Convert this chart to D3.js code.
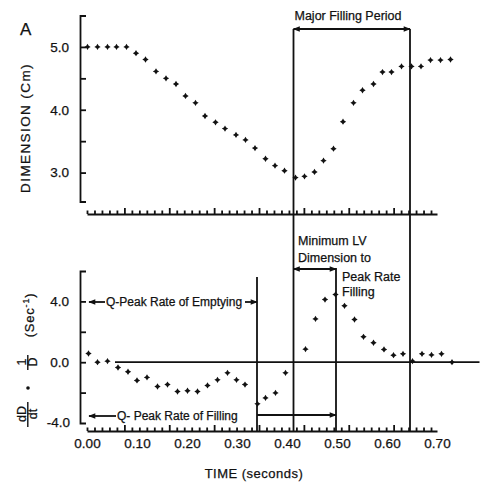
<!DOCTYPE html>
<html><head><meta charset="utf-8">
<script src="https://cdn.jsdelivr.net/npm/d3@7"></script>
<style>
body{margin:0;background:#fff}
svg text{font-family:"Liberation Sans",Arial,sans-serif;fill:#111;stroke:#111;stroke-width:0.25}
</style>
</head><body><svg id="c" width="481" height="482"></svg>
<script>
// ---- data ----
const dimTime = [0.001,0.021,0.041,0.059,0.079,0.098,0.117,0.138,0.158,0.178,0.197,0.217,0.236,0.257,0.276,0.298,0.317,0.336,0.357,0.376,0.395,0.417,0.435,0.455,0.473,0.493,0.512,0.533,0.551,0.573,0.591,0.609,0.629,0.649,0.668,0.687,0.707,0.727];
const dimValue = [5.0,5.0,5.0,5.0,5.0,4.9,4.8,4.61,4.5,4.41,4.22,4.11,3.9,3.8,3.7,3.6,3.52,3.39,3.22,3.11,3.03,2.92,2.94,3.01,3.19,3.38,3.81,4.11,4.31,4.41,4.6,4.6,4.69,4.69,4.69,4.79,4.79,4.8];
const rateTime = [0.003,0.021,0.041,0.062,0.082,0.1,0.12,0.141,0.161,0.181,0.201,0.221,0.241,0.261,0.281,0.299,0.316,0.341,0.357,0.377,0.397,0.437,0.457,0.476,0.497,0.515,0.535,0.553,0.573,0.594,0.613,0.632,0.651,0.67,0.689,0.709,0.73];
const rateValue = [0.57,0.0,0.07,-0.35,-0.63,-1.2,-1.0,-1.6,-1.47,-1.93,-1.88,-1.93,-1.53,-1.16,-0.7,-1.16,-1.47,-2.74,-2.35,-2.02,-0.7,0.86,2.85,4.12,4.45,3.71,2.81,1.67,1.28,0.84,0.46,0.55,0.07,0.55,0.48,0.55,0.0];
const xTickValues = [0,0.1,0.2,0.3,0.4,0.5,0.6,0.7];
const xTickLabels = ["0.00","0.10","0.20","0.30","0.40","0.50","0.60","0.70"];
const dimTicks = [3.0,3.5,4.0,4.5,5.0];
const dimTickLabels = {"3":"3.0","4":"4.0","5":"5.0"};
const rateTicks = [-2,0,2,4];
const rateTickLabels = {"-4":"-4.0","0":"0.0","4":"4.0"};
const eventNames = ["Peak Rate of Emptying","Minimum LV Dimension","Peak Rate of Filling","End of Major Filling"];
const eventTimes = [0.34,0.413,0.498,0.646];

// ---- drawing ----
const svg = d3.select("#c");
const x = d3.scaleLinear().domain([0,0.7]).range([87,437]);
const yDim = d3.scaleLinear().domain([2.5,5.5]).range([204,15.5]);
const yRate = d3.scaleLinear().domain([-4,6]).range([423,271]);
const axisX = 80, xTop = 214, xBot = 431;
const LW = 1.8;

const defs = svg.append("defs");
function mk(id, orient){
  defs.append("marker").attr("id",id).attr("viewBox","0 0 10 10").attr("refX",9).attr("refY",5)
    .attr("markerWidth",9).attr("markerHeight",7).attr("markerUnits","userSpaceOnUse").attr("orient",orient)
    .append("path").attr("d","M0,1 L10,5 L0,9 Z").attr("fill","#111");
}
mk("ah","auto"); mk("ahs","auto-start-reverse");

// y axes (bracket style, ticks inward)
function yAxis(scale, ticks, labels, dom){
  const s = scale.copy().domain(dom).range([scale(dom[0]),scale(dom[1])]);
  const g = svg.append("g").attr("transform",`translate(${axisX},0)`)
    .call(d3.axisLeft(s).tickValues(ticks).tickSizeInner(-6).tickSizeOuter(-6).tickPadding(11)
      .tickFormat(d=>labels[String(d)]||""));
  g.selectAll("path,line").attr("stroke","#111").attr("stroke-width",LW);
  g.selectAll("text").attr("font-size",13.5).attr("fill","#111");
  return g;
}
yAxis(yDim, dimTicks, dimTickLabels, [2.54,5.5]);
const gr = yAxis(yRate, rateTicks, rateTickLabels, [-4,6]);
gr.append("text").attr("x",-10).attr("y",yRate(-4)).attr("dy","0.32em").attr("text-anchor","end")
  .attr("font-size",13.5).text(rateTickLabels["-4"]);

// x axes with small upward ticks
function xAxis(y, withLabels){
  const s = x.copy().domain([0.002,0.782]);
  const minor = d3.range(0.002,0.78,1/60);
  const g = svg.append("g").attr("transform",`translate(0,${y})`)
    .call(d3.axisBottom(s).tickValues(minor).tickSizeInner(-3.5).tickSizeOuter(0).tickFormat(""));
  g.selectAll("path,line").attr("stroke","#111").attr("stroke-width",LW);
  g.selectAll(".tick line").filter((d,i)=>i%6===5).attr("y2",-6);
  if(withLabels){
    const gl = svg.append("g").attr("transform",`translate(0,${y})`)
      .call(d3.axisBottom(x).tickValues(xTickValues).tickSize(0).tickPadding(7).tickFormat((d,i)=>xTickLabels[i]));
    gl.select(".domain").remove();
    gl.selectAll("text").attr("font-size",13.5).attr("fill","#111");
  }
}
xAxis(xTop,false);
xAxis(xBot,true);

// zero line
svg.append("line").attr("x1",x(0.056)).attr("x2",x(0.785)).attr("y1",yRate(0)).attr("y2",yRate(0))
  .attr("stroke","#111").attr("stroke-width",LW);

// vertical event lines
const vTop = [277,29,268,29];
eventTimes.forEach((t,i)=>{
  svg.append("line").attr("x1",x(t)).attr("x2",x(t)).attr("y1",vTop[i]).attr("y2",xBot)
    .attr("stroke","#111").attr("stroke-width",LW);
});

// arrows
function arrow(x1,x2,y,start,end){
  const l = svg.append("line").attr("x1",x1).attr("x2",x2).attr("y1",y).attr("y2",y)
    .attr("stroke","#111").attr("stroke-width",LW);
  if(start) l.attr("marker-start","url(#ahs)");
  if(end) l.attr("marker-end","url(#ah)");
}
arrow(x(eventTimes[1]),x(eventTimes[3]),29,true,true);
arrow(x(eventTimes[1]),x(eventTimes[2]),269,true,true);
arrow(x(eventTimes[0]),x(eventTimes[2]),415,false,true);
arrow(105,89,302,false,true);
arrow(245,x(eventTimes[0]),302,false,true);
arrow(116,89,416,false,true);

// annotation texts
function txt(s,xx,yy,size,anchor){
  return svg.append("text").attr("x",xx).attr("y",yy).attr("font-size",size||12)
    .attr("text-anchor",anchor||"start").text(s);
}
txt("Major Filling Period",348,20,12.5,"middle");
txt("Minimum LV",298,245,12.5);
txt("Dimension to",298,262,12.5);
txt("Peak Rate",342,281,12.5);
txt("Filling",342,296,12.5);
txt("Q-Peak Rate of Emptying",106,306,12);
txt("Q- Peak Rate of Filling",117,420,12);
txt("A",20,35,17);
txt("TIME (seconds)",254,478,13,"middle").attr("letter-spacing",0.5);

// y axis titles
svg.append("text").attr("transform","translate(30,128) rotate(-90)").attr("text-anchor","middle")
  .attr("font-size",13.5).attr("letter-spacing",1.4).text("DIMENSION (Cm)");
const rl = svg.append("g");
function rt(s,xx,yy,size){
  return rl.append("text").attr("transform",`translate(${xx},${yy}) rotate(-90)`)
    .attr("text-anchor","middle").attr("font-size",size).text(s);
}
rt("dD",25.5,414,12.5); rt("dt",37,414,12.5);
rl.append("line").attr("x1",27.8).attr("x2",27.8).attr("y1",402).attr("y2",427).attr("stroke","#111").attr("stroke-width",1.4);
rl.append("circle").attr("cx",28).attr("cy",388).attr("r",1.8).attr("fill","#111");
rt("1",25.5,362,12.5); rt("D",37,362,12.5);
rl.append("line").attr("x1",27.8).attr("x2",27.8).attr("y1",355).attr("y2",370).attr("stroke","#111").attr("stroke-width",1.4);
const sec = rl.append("text").attr("transform","translate(34,315) rotate(-90)").attr("text-anchor","middle")
  .attr("font-size",13).attr("letter-spacing",0.8);
sec.append("tspan").text("(Sec");
sec.append("tspan").attr("baseline-shift","super").attr("font-size",9).text("-1");
sec.append("tspan").text(")");

// data points: small four-point star markers
const star = {draw(ctx,size){const r=Math.sqrt(size)/2, q=r*0.38;
  ctx.moveTo(0,-r);ctx.lineTo(q,-q);ctx.lineTo(r,0);ctx.lineTo(q,q);ctx.lineTo(0,r);
  ctx.lineTo(-q,q);ctx.lineTo(-r,0);ctx.lineTo(-q,-q);ctx.closePath();}};
const sym = d3.symbol().type(star).size(40);
svg.append("g").selectAll("path").data(dimTime).join("path")
  .attr("transform",(d,i)=>`translate(${x(d)},${yDim(dimValue[i])})`).attr("d",sym).attr("fill","#111");
svg.append("g").selectAll("path").data(rateTime).join("path")
  .attr("transform",(d,i)=>`translate(${x(d)},${yRate(rateValue[i])})`).attr("d",sym).attr("fill","#111");
</script></body></html>
